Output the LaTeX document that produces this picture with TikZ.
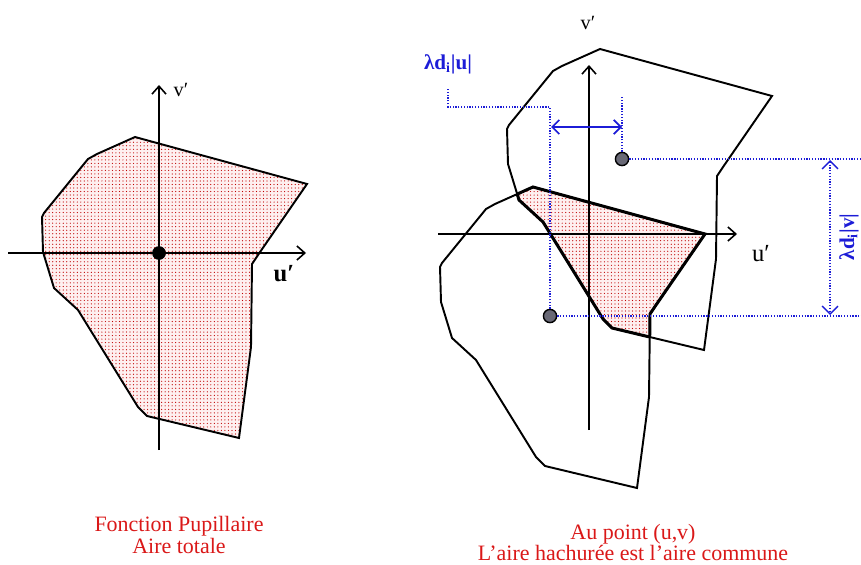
\documentclass[tikz,border=0pt]{standalone}
\usepackage{fontspec}
\setmainfont{Liberation Serif}
\usetikzlibrary{arrows.meta, patterns.meta}
\definecolor{dimblue}{RGB}{28,28,215}
\definecolor{captionred}{RGB}{218,24,24}
\definecolor{dotgray}{RGB}{105,105,118}
\definecolor{pupilfill}{RGB}{254,240,240}
% pupil outline, in pixel units of the left panel
\newcommand{\pupilPath}{(135,137) -- (307,184) -- (258,255) -- (252,264) -- (251,347)
  -- (239,438) -- (147,416) -- (138,407) -- (78,310) -- (54,288) -- (43,252)
  -- (42,217) -- (44,213) -- (88,159) -- (97,154) -- cycle}

\tikzset{
  pupil/.style={draw=black, line width=1.1pt, line join=miter},
  shaded/.style={preaction={fill=pupilfill}, pattern={Dots[distance=2pt,radius=0.35pt]},
    pattern color=red!75!black},
  axis/.style={line width=0.9pt, -{Straight Barb[length=4.5pt,width=8pt]}},
  guide/.style={dimblue, line width=0.8pt, dash pattern=on 0.7pt off 0.9pt},
  dimarrow/.style={dimblue, line width=1pt,
    {Straight Barb[length=4pt,width=8pt]}-{Straight Barb[length=4pt,width=8pt]}},
  centre/.style={circle, fill=dotgray, draw=black, line width=0.8pt, inner sep=0pt,
    minimum size=7.5pt},
  axlbl/.style={font=\fontsize{11.5}{11.5}\selectfont, inner sep=0pt},
  dimlbl/.style={dimblue, font=\fontsize{12}{12}\selectfont\bfseries, inner sep=0pt},
  caption/.style={captionred, font=\fontsize{12.5}{12.5}\selectfont, anchor=base, inner sep=0pt}
}

\begin{document}
\begin{tikzpicture}[x=0.02cm, y=-0.02cm]
  \useasboundingbox (0,0) rectangle (861,564);

  % -- left panel: total pupil --
  \fill[shaded] \pupilPath;
  \draw[pupil] \pupilPath;
  \coordinate (lW) at (8,253);
  \coordinate (lE) at (306,253);
  \coordinate (lS) at (159,450);
  \coordinate (lN) at (159,85);
  \draw[axis] (lW) -- (lE);
  \draw[axis] (lS) -- (lN);
  \node[circle, fill=black, inner sep=0pt, minimum size=7.8pt] (lO) at (159,253) {};
  \node[axlbl] (lv) at (181,90) {v′};
  \node[axlbl, font=\fontsize{14}{14}\selectfont\bfseries] (lu) at (284,274) {u′};

  % -- right panel: shifted pupils and common area --
  \begin{scope}
    \clip[shift={(465,-88)}] \pupilPath;
    \fill[shaded, shift={(398,50)}] \pupilPath;
    \draw[line width=1.7pt, shift={(398,50)}] \pupilPath;
  \end{scope}
  \begin{scope}
    \clip[shift={(398,50)}] \pupilPath;
    \draw[line width=1.7pt, shift={(465,-88)}] \pupilPath;
  \end{scope}
  \draw[pupil, shift={(465,-88)}] \pupilPath;
  \draw[pupil, shift={(398,50)}] \pupilPath;

  \coordinate (rW) at (438,234);
  \coordinate (rE) at (737,234);
  \coordinate (rS) at (589,430);
  \coordinate (rN) at (589,65);
  \draw[axis] (rW) -- (rE);
  \draw[axis] (rS) -- (rN);
  \node[axlbl] (rv) at (588,23) {v′};
  \node[axlbl, font=\fontsize{14}{14}\selectfont] (ru) at (761,254) {u′};

  % -- shifted points and distances --
  \node[centre] (dA) at (622,159) {};
  \node[centre] (dB) at (550,316) {};
  \coordinate (eA) at (861,159);
  \coordinate (eB) at (861,316);
  \coordinate (tA) at (622,97);
  \coordinate (kB) at (550,107);
  \coordinate (kL) at (448,107);
  \coordinate (kT) at (448,88);
  \draw[guide] (dA.east) -- (eA);
  \draw[guide] (dB.east) -- (eB);
  \draw[guide] (dA.north) -- (tA);
  \draw[guide] (dB.north) -- (kB) -- (kL) -- (kT);

  \coordinate (hL) at (551,127);
  \coordinate (hR) at (622,127);
  \draw[dimarrow] (hL) -- (hR);
  \coordinate (vT) at (830,160);
  \coordinate (vB) at (830,315);
  \draw[guide, {Straight Barb[length=4.5pt,width=9pt]}-{Straight Barb[length=4.5pt,width=9pt]}]
    (vT) -- (vB);

  \node[dimlbl] (lblU) at (448,64) {λd\textsubscript{i}|u|};
  \node[dimlbl, rotate=90] (lblV) at (849,237) {λd\textsubscript{i}|v|};

  % -- captions --
  \node[caption] (capLa) at (179,531) {Fonction Pupillaire};
  \node[caption] (capLb) at (179,553) {Aire totale};
  \node[caption] (capRa) at (633,539) {Au point (u,v)};
  \node[caption] (capRb) at (633,560) {L’aire hachurée est l’aire commune};
\end{tikzpicture}
\end{document}
